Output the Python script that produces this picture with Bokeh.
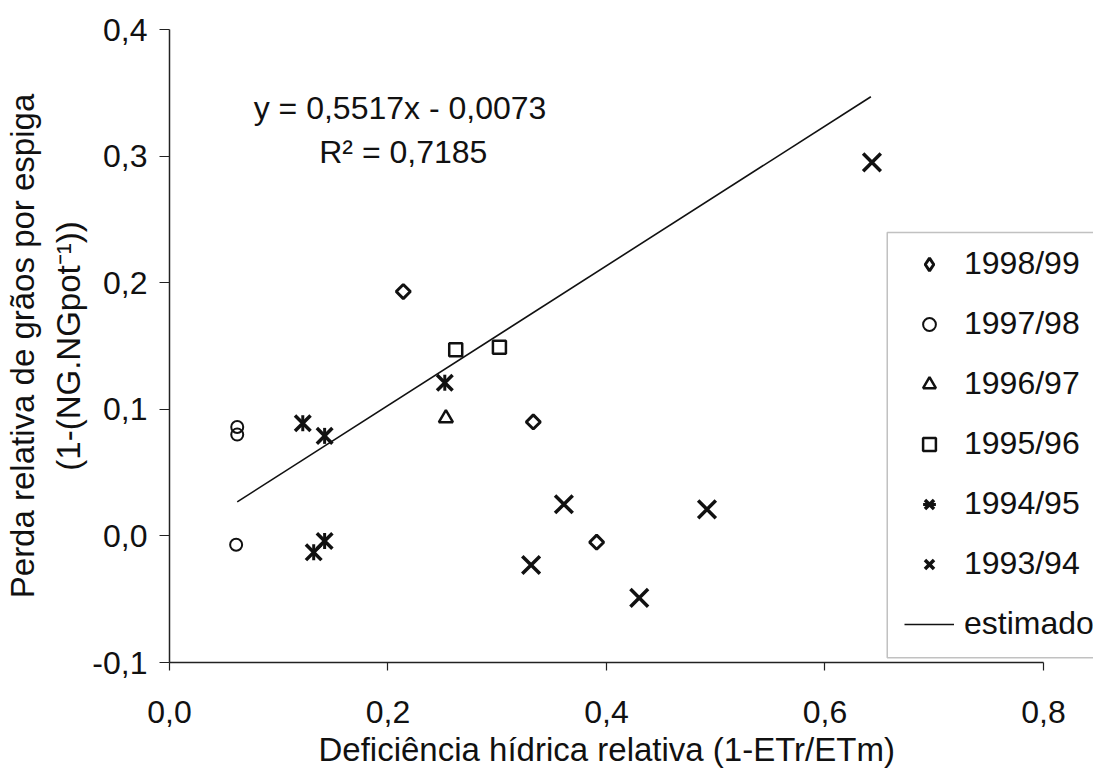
import math
from bokeh.plotting import figure
from bokeh.models import Range1d, FixedTicker, Label, Legend, LegendItem, BoxAnnotation, Title
from bokeh.embed import file_html
from bokeh.resources import INLINE

# ---- data ----
x_ticks = [0.0, 0.2, 0.4, 0.6, 0.8]
x_tick_labels = ["0,0", "0,2", "0,4", "0,6", "0,8"]
y_ticks = [-0.1, 0.0, 0.1, 0.2, 0.3, 0.4]
y_tick_labels = ["-0,1", "0,0", "0,1", "0,2", "0,3", "0,4"]

x_1998 = [0.214, 0.333, 0.391]
y_1998 = [0.193, 0.090, -0.005]
x_1997 = [0.062, 0.062, 0.061]
y_1997 = [0.080, 0.086, -0.007]
x_1996 = [0.253]
y_1996 = [0.093]
x_1995 = [0.262, 0.302]
y_1995 = [0.147, 0.149]
x_1994 = [0.122, 0.142, 0.252, 0.142, 0.132]
y_1994 = [0.089, 0.079, 0.121, -0.004, -0.013]
x_1993 = [0.643, 0.361, 0.492, 0.331, 0.430]
y_1993 = [0.295, 0.025, 0.021, -0.023, -0.049]

slope = 0.5517
intercept = -0.0073
fit_x = [0.062, 0.642]
fit_y = [slope * v + intercept for v in fit_x]

series_labels = ["1998/99", "1997/98", "1996/97", "1995/96", "1994/95", "1993/94", "estimado"]
eq_text = "y = 0,5517x - 0,0073"
r2_text = "R² = 0,7185"
x_title = "Deficiência hídrica relativa (1-ETr/ETm)"
y_title_1 = "Perda relativa de grãos por espiga"
y_title_2 = "(1-(NG.NGpot⁻¹))"

FONT = "Liberation Sans"
INK = "#111111"

p = figure(width=1093, height=774,
           x_range=Range1d(0, 0.8458), y_range=Range1d(-0.1, 0.4),
           output_backend="svg", toolbar_location=None,
           min_border_left=169, min_border_right=0,
           min_border_top=29, min_border_bottom=112)
p.outline_line_color = None
p.xgrid.visible = False
p.ygrid.visible = False
p.background_fill_color = "white"
p.border_fill_color = "white"

for ax in (p.xaxis[0], p.yaxis[0]):
    ax.axis_line_color = "#222222"
    ax.axis_line_width = 1.5
    ax.major_tick_line_color = "#222222"
    ax.major_tick_line_width = 1.2
    ax.major_tick_in = 0
    ax.minor_tick_in = 0
    ax.minor_tick_out = 0
    ax.major_label_text_font = FONT
    ax.major_label_text_font_size = "32px"
    ax.major_label_text_color = INK
    ax.axis_label_text_font = FONT
    ax.axis_label_text_font_size = "33px"
    ax.axis_label_text_font_style = "normal"
    ax.axis_label_text_color = INK

p.xaxis.ticker = FixedTicker(ticks=x_ticks)
p.xaxis.major_label_overrides = dict(zip(x_ticks, x_tick_labels))
p.xaxis.bounds = (0, 0.8)
p.xaxis.major_tick_out = 8
p.xaxis.major_label_standoff = 30

p.yaxis.ticker = FixedTicker(ticks=y_ticks)
p.yaxis.major_label_overrides = dict(zip(y_ticks, y_tick_labels))
p.yaxis.major_tick_out = 10
p.yaxis.major_label_standoff = 12
p.yaxis.axis_label = y_title_1 + "\n" + y_title_2
p.yaxis.axis_label_standoff = 2
p.yaxis.axis_label_text_line_height = 1.25
p.yaxis.axis_label_text_align = "center"

# x-axis title, centred under the 0-0.8 axis
p.add_layout(Title(text=x_title, align="left", offset=149, standoff=7,
                   text_font=FONT, text_font_size="33px",
                   text_font_style="normal", text_color=INK), "below")

# regression line
r_fit = p.line(fit_x, fit_y, line_color=INK, line_width=1.6)

# markers
r98 = p.scatter(x_1998, y_1998, marker="square", angle=math.pi / 4, size=10,
                fill_color=None, line_color=INK, line_width=3)
r98_leg = p.scatter(x_1998, y_1998, marker="diamond", size=12,
                    fill_color=None, line_color=INK, line_width=3, visible=False)
r97 = p.scatter(x_1997, y_1997, marker="circle", size=12,
                fill_color=None, line_color=INK, line_width=2)
r96 = p.scatter(x_1996, y_1996, marker="triangle", size=14,
                fill_color=None, line_color=INK, line_width=2.5)
r95 = p.scatter(x_1995, y_1995, marker="square", size=13,
                fill_color=None, line_color=INK, line_width=2.5)
r94a = p.scatter(x_1994, y_1994, marker="x", size=22,
                 line_color=INK, line_width=3.5)
r94b = p.scatter(x_1994, y_1994, marker="dash", angle=math.pi / 2, size=16,
                 line_color=INK, line_width=3)
r93 = p.scatter(x_1993, y_1993, marker="x", size=25,
                line_color=INK, line_width=3.5)

# legend frame (right edge runs off the canvas, as in the original)
legend_box = BoxAnnotation(left=0.657, right=0.95, bottom=-0.0962, top=0.2397,
                           fill_color="white", fill_alpha=1.0,
                           line_color="#333333", line_width=1.5)
p.add_layout(legend_box)

legend = Legend(items=[
    LegendItem(label=series_labels[0], renderers=[r98_leg]),
    LegendItem(label=series_labels[1], renderers=[r97]),
    LegendItem(label=series_labels[2], renderers=[r96]),
    LegendItem(label=series_labels[3], renderers=[r95]),
    LegendItem(label=series_labels[4], renderers=[r94a, r94b]),
    LegendItem(label=series_labels[5], renderers=[r93]),
    LegendItem(label=series_labels[6], renderers=[r_fit]),
], location=(735, 20))
legend.margin = 0
legend.padding = 15
legend.spacing = 23
legend.glyph_width = 50
legend.glyph_height = 32
legend.label_height = 32
legend.label_standoff = 10
legend.label_text_font = FONT
legend.label_text_font_size = "32px"
legend.label_text_color = INK
legend.border_line_color = None
legend.background_fill_alpha = 0.0
p.add_layout(legend)

# equation text
p.add_layout(Label(x=0.211, y=0.338, text=eq_text, text_align="center",
                   text_baseline="middle", text_font=FONT,
                   text_font_size="32px", text_color=INK))
p.add_layout(Label(x=0.214, y=0.303, text=r2_text, text_align="center",
                   text_baseline="middle", text_font=FONT,
                   text_font_size="32px", text_color=INK))

open("out.html", "w").write(file_html(p, INLINE))
